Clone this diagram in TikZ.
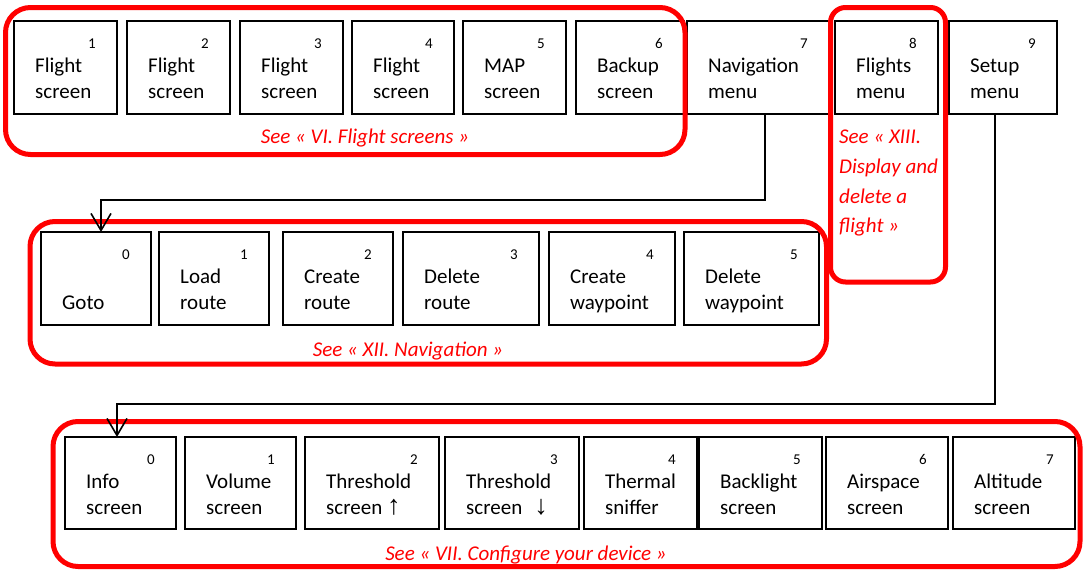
\documentclass[tikz,border=0pt]{standalone}
\usepackage{fontspec}
\setmainfont{Carlito}
\newfontfamily\arrowfont{Liberation Sans}
\usetikzlibrary{arrows.meta,calc}
\tikzset{
  scrbox/.style={draw=black, line width=2pt, inner sep=0pt, outer sep=0pt, fill=white},
  numlbl/.style={inner sep=0pt, font=\fontsize{15}{17}\selectfont},
  txtlbl/.style={inner sep=0pt, font=\fontsize{21}{26}\selectfont},
  grp/.style={draw=red, line width=5pt, rounded corners=#1},
  grp/.default=25pt,
  seelbl/.style={inner sep=0pt, text=red, font=\fontsize{21}{26}\selectfont\itshape},
  conn/.style={draw=black, line width=1.8pt, -{Straight Barb[length=17pt,width=20pt,line width=1.6pt]}}
}
\newcommand\arr[1]{{\arrowfont\fontsize{27}{26}\selectfont #1}}
\newcommand\scrbox[8]{%
  \node[scrbox, anchor=north west, minimum width={#4-#2}, minimum height={#5-#3}] (#1) at (#2,#3) {};
  \node[numlbl, anchor=base] (#1-n) at ($(#1.north east)+(-25,27)$) {#6};
  \node[txtlbl, anchor=base west] (#1-a) at ($(#1.north west)+(21,51)$) {#7};
  \node[txtlbl, anchor=base west] (#1-b) at ($(#1.north west)+(21,77)$) {#8};
}
\begin{document}
\begin{tikzpicture}[x=1pt,y=-1pt]
\fill[white] (0,0) rectangle (1088,570);
\useasboundingbox (0,0) rectangle (1088,570);
% top row
\scrbox{f1}{14}{21}{117}{114}{1}{Flight}{screen}
\scrbox{f2}{127}{21}{230}{114}{2}{Flight}{screen}
\scrbox{f3}{240}{21}{343}{114}{3}{Flight}{screen}
\scrbox{f4}{352}{21}{454}{114}{4}{Flight}{screen}
\scrbox{f5}{463}{21}{566}{114}{5}{MAP}{screen}
\scrbox{f6}{576}{21}{684}{114}{6}{Backup}{screen}
\scrbox{nav}{687}{21}{829}{114}{7}{Navigation}{menu}
\scrbox{fl}{835}{21}{938}{114}{8}{Flights}{menu}
\scrbox{setup}{949}{21}{1057}{114}{9}{Setup}{menu}
% middle row
\scrbox{goto}{41}{232}{151}{325}{0}{}{Goto}
\scrbox{load}{159}{232}{269}{325}{1}{Load}{route}
\scrbox{cr}{283}{232}{393}{325}{2}{Create}{route}
\scrbox{dr}{403}{232}{539}{325}{3}{Delete}{route}
\scrbox{cw}{549}{232}{675}{325}{4}{Create}{waypoint}
\scrbox{dw}{684}{232}{819}{325}{5}{Delete}{waypoint}
% bottom row
\scrbox{info}{65}{437}{176}{529}{0}{Info}{screen}
\scrbox{vol}{185}{437}{296}{529}{1}{Volume}{screen}
\scrbox{thu}{305}{437}{439}{529}{2}{Threshold}{screen \arr{↑}}
\scrbox{thd}{445}{437}{579}{529}{3}{Threshold}{screen\hspace{12pt}\arr{↓}}
\scrbox{therm}{584}{437}{697}{529}{4}{Thermal}{sniffer}
\scrbox{back}{699}{437}{822}{529}{5}{Backlight}{screen}
\scrbox{air}{826}{437}{948}{529}{6}{Airspace}{screen}
\scrbox{alt}{953}{437}{1075}{529}{7}{Altitude}{screen}
% red groups
\draw[grp] (5.5,7.5) rectangle (685,154.5);
\draw[grp=15pt] (830.5,7.5) rectangle (945.5,282);
\draw[grp] (30,221.5) rectangle (826.5,364);
\draw[grp] (53,421.5) rectangle (1080,566.5);
% red labels
\node[seelbl, anchor=base] (see1) at (365,143) {See « VI. Flight screens »};
\node[seelbl, anchor=base] (see2) at (408,356) {See « XII. Navigation »};
\node[seelbl, anchor=base] (see3) at (526,560) {See « VII. Configure your device »};
\node[seelbl, anchor=base west] (see4a) at (839,143) {See « XIII.};
\node[seelbl, anchor=base west] (see4b) at (839,173) {Display and};
\node[seelbl, anchor=base west] (see4c) at (839,203) {delete a};
\node[seelbl, anchor=base west] (see4d) at (839,232) {flight »};
% connectors
\draw[conn] ($(nav.south)+(7,0)$) -- ++(0,86) -| ($(goto.north)+(5,0)$);
\draw[conn] ($(setup.south)+(-8,0)$) -- ++(0,290) -| ($(info.north)+(-3.5,0)$);
\end{tikzpicture}
\end{document}
